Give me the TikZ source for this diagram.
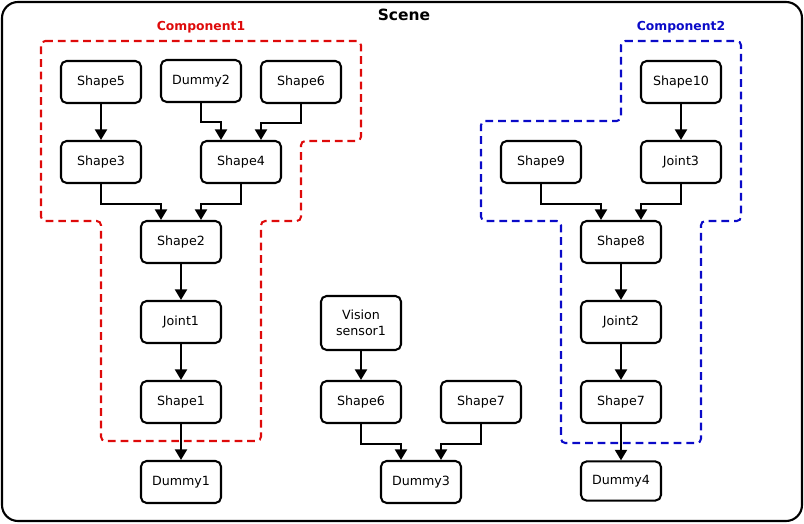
\documentclass[tikz,border=0pt]{standalone}
\usepackage{fontspec}
\setmainfont{DejaVu Sans}
\usetikzlibrary{arrows.meta,positioning,calc}
\definecolor{compred}{RGB}{222,10,10}
\definecolor{compblue}{RGB}{10,10,200}
\tikzset{
  obj/.style={rectangle, rounded corners=4pt, draw, line width=1.45pt,
              minimum width=2cm, minimum height=1.05cm, inner sep=1pt,
              font=\fontsize{9}{11}\selectfont, align=center},
  link/.style={-{Triangle[width=8.5pt,length=7.5pt]}, line width=1.45pt},
  grp/.style={dash pattern=on 5.5pt off 3.5pt, line width=1.45pt, rounded corners=3pt},
  grplabel/.style={font=\fontsize{8.8}{10.8}\selectfont\bfseries},
}
\begin{document}
\begin{tikzpicture}[x=0.025cm, y=-0.025cm]
  \useasboundingbox (0,0) rectangle (804,524);
  % Scene frame
  \draw[line width=1.5pt, rounded corners=0.4cm] (2,2) rectangle (802,521);
  \node[font=\fontsize{11}{13}\selectfont\bfseries] (scene) at (404,15) {Scene};
  % Component outlines
  \draw[grp, compred] (41,41) -- (361,41) -- (361,141) -- (301,141) -- (301,221) -- (261,221)
        -- (261,441) -- (101,441) -- (101,221) -- (41,221) -- cycle;
  \node[grplabel, compred] (compone) at (201,27) {Component1};
  \draw[grp, compblue] (621,41) -- (741,41) -- (741,221) -- (701,221) -- (701,443) -- (561,443)
        -- (561,221) -- (481,221) -- (481,121) -- (621,121) -- cycle;
  \node[grplabel, compblue] (comptwo) at (681,27) {Component2};
  % Left tree
  \node[obj] (shapefive) at (101,82) {Shape5};
  \node[obj] (dummytwo) at (201,81) {Dummy2};
  \node[obj] (shapesix) at (301,82) {Shape6};
  \node[obj] (shapethree) at (101,162) {Shape3};
  \node[obj] (shapefour) at (241,162) {Shape4};
  \node[obj] (shapetwo) at (181,242) {Shape2};
  \node[obj] (jointone) at (181,322) {Joint1};
  \node[obj] (shapeone) at (181,402) {Shape1};
  \node[obj] (dummyone) at (181,482) {Dummy1};
  % Middle tree
  \node[obj, minimum height=1.35cm] (vision) at (361,323) {Vision\\sensor1};
  \node[obj] (shapesixb) at (361,402) {Shape6};
  \node[obj] (shapesevenb) at (481,402) {Shape7};
  \node[obj] (dummythree) at (421,482) {Dummy3};
  % Right tree
  \node[obj] (shapeten) at (681,82) {Shape10};
  \node[obj] (shapenine) at (541,162) {Shape9};
  \node[obj] (jointthree) at (681,162) {Joint3};
  \node[obj] (shapeeight) at (621,242) {Shape8};
  \node[obj] (jointtwo) at (621,322) {Joint2};
  \node[obj] (shapeseven) at (621,402) {Shape7};
  \node[obj, minimum height=0.98cm] (dummyfour) at (621,481) {Dummy4};
  % Links
  \draw[link] (shapefive) -- (shapethree);
  \draw[link] (dummytwo.south) -- ++(0,19) -| ([xshift=-0.5cm]shapefour.north);
  \draw[link] (shapesix.south) -- ++(0,19) -| ([xshift=0.5cm]shapefour.north);
  \draw[link] (shapethree.south) -- ++(0,20) -| ([xshift=-0.5cm]shapetwo.north);
  \draw[link] (shapefour.south) -- ++(0,20) -| ([xshift=0.5cm]shapetwo.north);
  \draw[link] (shapetwo) -- (jointone);
  \draw[link] (jointone) -- (shapeone);
  \draw[link] (shapeone) -- (dummyone);
  \draw[link] (vision) -- (shapesixb);
  \draw[link] (shapesixb.south) -- ++(0,20) -| ([xshift=-0.5cm]dummythree.north);
  \draw[link] (shapesevenb.south) -- ++(0,20) -| ([xshift=0.5cm]dummythree.north);
  \draw[link] (shapeten) -- (jointthree);
  \draw[link] (shapenine.south) -- ++(0,20) -| ([xshift=-0.5cm]shapeeight.north);
  \draw[link] (jointthree.south) -- ++(0,20) -| ([xshift=0.5cm]shapeeight.north);
  \draw[link] (shapeeight) -- (jointtwo);
  \draw[link] (jointtwo) -- (shapeseven);
  \draw[link] (shapeseven) -- (dummyfour);
\end{tikzpicture}
\end{document}
